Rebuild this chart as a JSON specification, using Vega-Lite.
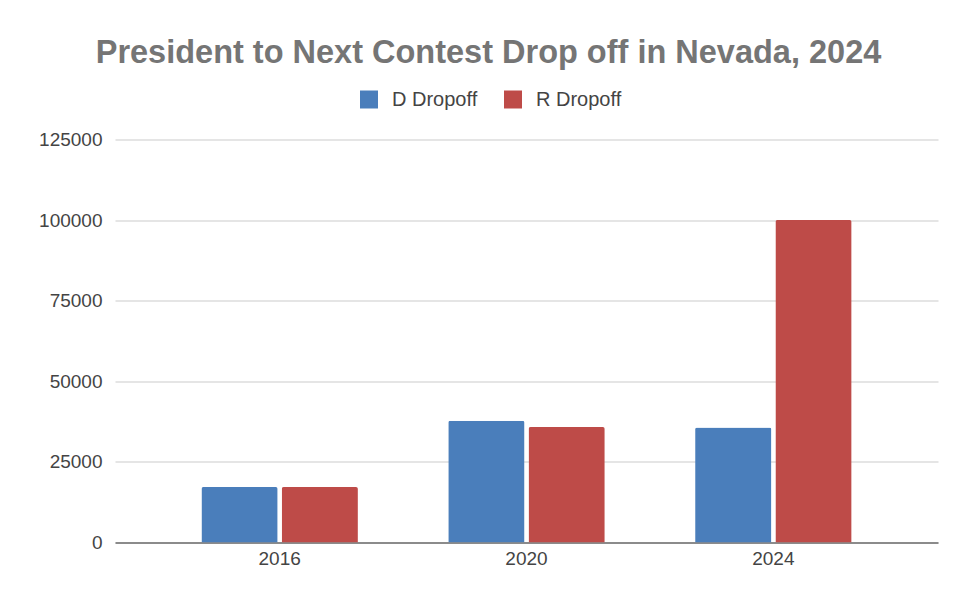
{
  "$schema": "https://vega.github.io/schema/vega-lite/v6.json",
  "width": 823,
  "height": 403,
  "autosize": {"type": "none"},
  "padding": {"left": 115, "top": 139.5, "right": 20, "bottom": 55},
  "background": "white",
  "title": {
    "text": "President to Next Contest Drop off in Nevada, 2024",
    "font": "Liberation Sans",
    "fontSize": 32.5,
    "fontWeight": "bold",
    "color": "#757575",
    "anchor": "middle",
    "dx": -38,
    "dy": 33,
    "baseline": "alphabetic",
    "offset": 27
  },
  "data": {
    "values": [
      {"year": "2016", "series": "D Dropoff", "value": 17200},
      {"year": "2016", "series": "R Dropoff", "value": 17200},
      {"year": "2020", "series": "D Dropoff", "value": 37800},
      {"year": "2020", "series": "R Dropoff", "value": 35800},
      {"year": "2024", "series": "D Dropoff", "value": 35700},
      {"year": "2024", "series": "R Dropoff", "value": 100000}
    ]
  },
  "mark": {"type": "bar", "cornerRadiusTopLeft": 2, "cornerRadiusTopRight": 2},
  "encoding": {
    "x": {
      "field": "year",
      "type": "nominal",
      "scale": {"paddingInner": 0.366, "paddingOuter": 0.35},
      "axis": {
        "title": null,
        "labelAngle": 0,
        "labelFont": "Liberation Sans",
        "labelFontSize": 19,
        "labelColor": "#444444",
        "labelPadding": 7,
        "ticks": false,
        "domainColor": "#333333",
        "domainWidth": 1.2,
        "grid": false
      }
    },
    "xOffset": {
      "field": "series",
      "type": "nominal",
      "scale": {"paddingInner": 0.05, "paddingOuter": 0}
    },
    "y": {
      "field": "value",
      "type": "quantitative",
      "scale": {"domain": [0, 125000]},
      "axis": {
        "title": null,
        "values": [0, 25000, 50000, 75000, 100000, 125000],
        "format": "d",
        "labelFont": "Liberation Sans",
        "labelFontSize": 19,
        "labelColor": "#444444",
        "labelPadding": 13,
        "ticks": false,
        "domain": false,
        "gridColor": "#dddddd",
        "gridWidth": 1.5
      }
    },
    "color": {
      "field": "series",
      "type": "nominal",
      "scale": {"domain": ["D Dropoff", "R Dropoff"], "range": ["#4A7EBB", "#BE4B48"]},
      "legend": {
        "title": null,
        "orient": "none",
        "direction": "horizontal",
        "legendX": 244,
        "legendY": -50,
        "symbolType": "square",
        "symbolSize": 324,
        "symbolStrokeWidth": 0,
        "labelFont": "Liberation Sans",
        "labelFontSize": 20,
        "labelColor": "#444444",
        "columnPadding": 25,
        "labelOffset": 13
      }
    }
  },
  "config": {"view": {"stroke": null}}
}
